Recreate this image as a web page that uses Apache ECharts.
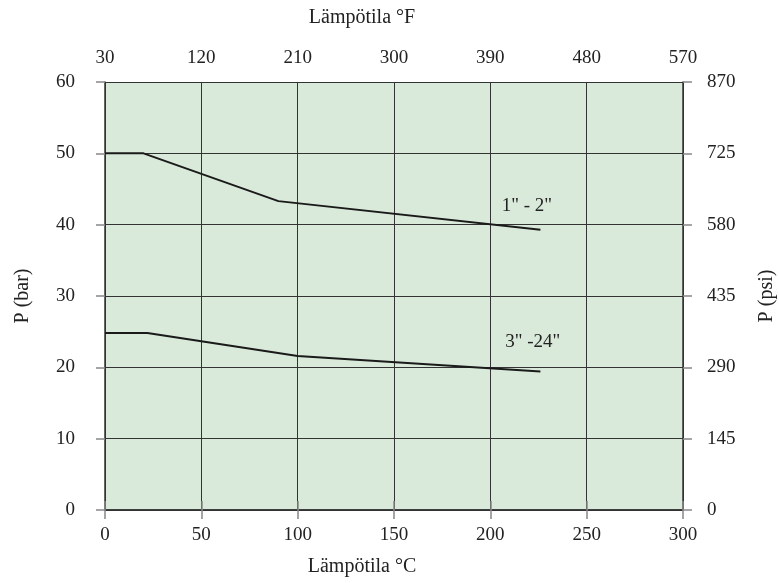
<!DOCTYPE html>
<html>
<head>
<meta charset="utf-8">
<script src="https://cdn.jsdelivr.net/npm/echarts@6/dist/echarts.min.js"></script>
<style>
  html, body { margin: 0; padding: 0; background: #fff; }
  #chart { width: 779px; height: 583px; }
</style>
</head>
<body>
<div id="chart"></div>
<script>
// lämpötila °C / paine bar
const small = [[0, 50], [20, 50], [90, 43.3], [226, 39.3]];   // 1" - 2"
const large = [[0, 24.8], [22, 24.8], [100, 21.6], [226, 19.4]]; // 3" -24"
const smallLabel = [219, 42.6];
const largeLabel = [222, 23.6];

const font = "Liberation Serif";
const ink = "#222";

const labelStyle = { color: ink, fontFamily: font, fontSize: 19 };
const nameStyle = { color: ink, fontFamily: font, fontSize: 20 };

function axisBase() {
  return {
    axisLine: { show: true, lineStyle: { color: "#333", width: 1.5 } },
    axisTick: { show: true, inside: false, length: 9, lineStyle: { color: "#888", width: 1.5 } },
    splitLine: { show: false },
  };
}

function tag(text, coord) {
  return {
    symbol: "rect",
    symbolSize: 1,
    itemStyle: { color: "transparent" },
    label: { show: true, position: "inside", formatter: text, ...labelStyle },
    data: [{ coord: coord }],
  };
}

const chart = echarts.init(document.getElementById("chart"));

chart.setOption({
  animation: false,
  grid: {
    left: 105,
    right: 96,
    top: 82,
    bottom: 73,
    outerBoundsMode: "none",
    containLabel: false,
    show: true,
    backgroundColor: "#d9eada",
    borderWidth: 0,
  },
  xAxis: [
    {
      ...axisBase(),
      type: "value",
      position: "bottom",
      min: 0,
      max: 300,
      interval: 50,
      name: "Lämpötila °C",
      nameLocation: "middle",
      nameGap: 47,
      nameTextStyle: { ...nameStyle, padding: [0, 64, 0, 0] },
      axisLabel: { ...labelStyle, margin: 16 },
      splitLine: { show: true, lineStyle: { color: "#333", width: 1 } },
    },
    {
      ...axisBase(),
      type: "value",
      position: "top",
      min: 30,
      max: 570,
      interval: 90,
      name: "Lämpötila °F",
      nameLocation: "middle",
      nameGap: 54,
      nameTextStyle: { ...nameStyle, padding: [0, 64, 0, 0] },
      axisLabel: { ...labelStyle, margin: 14 },
    },
  ],
  yAxis: [
    {
      ...axisBase(),
      type: "value",
      position: "left",
      min: 0,
      max: 60,
      interval: 10,
      name: "P (bar)",
      nameLocation: "middle",
      nameGap: 72,
      nameTextStyle: nameStyle,
      axisLabel: { ...labelStyle, margin: 30 },
      splitLine: { show: true, lineStyle: { color: "#333", width: 1 } },
    },
    {
      ...axisBase(),
      type: "value",
      position: "right",
      min: 0,
      max: 870,
      interval: 145,
      name: "P (psi)",
      nameLocation: "middle",
      nameGap: 74,
      nameTextStyle: nameStyle,
      axisLabel: { ...labelStyle, margin: 24 },
    },
  ],
  series: [
    {
      name: '1" - 2"',
      type: "line",
      data: small,
      showSymbol: false,
      lineStyle: { color: "#1a1a1a", width: 2 },
      markPoint: tag('1" - 2"', smallLabel),
    },
    {
      name: '3" -24"',
      type: "line",
      data: large,
      showSymbol: false,
      lineStyle: { color: "#1a1a1a", width: 2 },
      markPoint: tag('3" -24"', largeLabel),
    },
  ],
});
</script>
</body>
</html>
